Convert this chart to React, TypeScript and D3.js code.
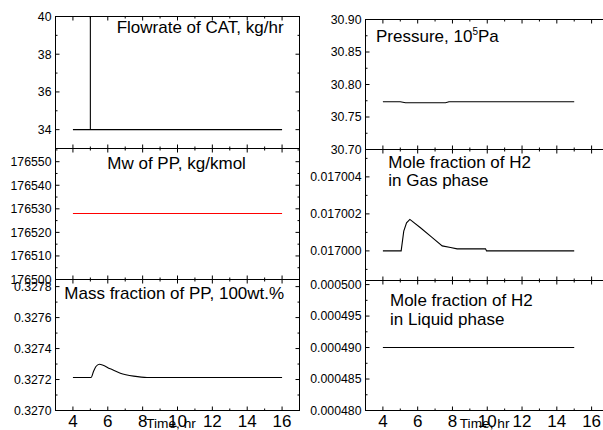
import React from "react";
import * as d3 from "d3";

// ---- data ----
const timeFlow = [4, 5, 5, 5, 16];
const flowCAT = [34, 34, 40, 34, 34];

const timeMw = [4, 16];
const mwPP = [176528, 176528];

const timeMass = [4, 5.04, 5.18, 5.32, 5.52, 6.14, 6.72, 7.48, 8.25, 16];
const massPP = [0.327213, 0.327213, 0.327252, 0.327284, 0.327299, 0.327269, 0.327241, 0.327222, 0.327213, 0.327213];

const timePress = [4, 5, 5.3, 7.6, 7.8, 15];
const pressure = [30.7734, 30.7734, 30.7719, 30.7719, 30.7734, 30.7734];

const timeGas = [4, 5.05, 5.2, 5.36, 5.55, 6.16, 6.84, 7.41, 7.89, 8.27, 9.9, 9.96, 15];
const h2Gas = [0.017, 0.017, 0.01700107, 0.01700152, 0.0170017, 0.01700125, 0.01700072, 0.01700027, 0.01700018, 0.01700011, 0.01700011, 0.017, 0.017];

const timeLiq = [4, 15];
const h2Liq = [0.00049, 0.00049];

// ---- axes ----
const xDomain = [3, 17];
const xMajor = [4, 6, 8, 10, 12, 14, 16];
const xMinor = [5, 7, 9, 11, 13, 15];

const flowTicks = [34, 36, 38, 40];
const flowMinor = [33, 35, 37, 39];
const mwTicks = [176500, 176510, 176520, 176530, 176540, 176550];
const mwMinor = [176505, 176515, 176525, 176535, 176545, 176555];
const massTicks = [0.327, 0.3272, 0.3274, 0.3276, 0.3278];
const massMinor = [0.3271, 0.3273, 0.3275, 0.3277];
const pressTicks = [30.7, 30.75, 30.8, 30.85, 30.9];
const pressMinor = [30.725, 30.775, 30.825, 30.875];
const gasTicks = [0.017, 0.017002, 0.017004];
const gasMinor = [0.016999, 0.017001, 0.017003, 0.017005];
const liqTicks = [0.00048, 0.000485, 0.00049, 0.000495, 0.0005];
const liqMinor = [0.0004825, 0.0004875, 0.0004925, 0.0004975];

const FONT = "'Liberation Sans', Arial, Helvetica, sans-serif";

type PanelProps = {
  id: string;
  x0: number; x1: number; y0: number; y1: number;
  yDomain: number[];
  yMajor: number[]; yMinor: number[];
  fmt: (v: number) => string;
  t: number[]; v: number[];
  color: string;
  smooth?: boolean;
  title: string[] | React.ReactNode;
  titleX: number; titleY: number[];
  xLabels?: boolean;
  timeLabelX?: number;
};

function Panel(p: PanelProps) {
  const x = d3.scaleLinear().domain(xDomain).range([p.x0, p.x1]);
  const y = d3.scaleLinear().domain(p.yDomain).range([p.y1, p.y0]);
  const pts = p.t.map((tt, i) => [tt, p.v[i]] as [number, number]);
  const line = d3
    .line<[number, number]>()
    .x((d) => x(d[0]))
    .y((d) => y(d[1]))
    .curve(p.smooth ? d3.curveMonotoneX : d3.curveLinear);
  const inY = (v: number) => y(v) >= p.y0 - 0.01 && y(v) <= p.y1 + 0.01;
  const maj = 4, min = 2;
  return (
    <g>
      <defs>
        <clipPath id={p.id}>
          <rect x={p.x0} y={p.y0} width={p.x1 - p.x0} height={p.y1 - p.y0} />
        </clipPath>
      </defs>
      <path d={line(pts) || ""} fill="none" stroke={p.color} strokeWidth={1.1} clipPath={`url(#${p.id})`} />
      <rect x={p.x0} y={p.y0} width={p.x1 - p.x0} height={p.y1 - p.y0} fill="none" stroke="#000" strokeWidth={1} />
      {p.yMajor.filter(inY).map((v) => (
        <g key={"ym" + v}>
          <line x1={p.x0} x2={p.x0 + maj} y1={y(v)} y2={y(v)} stroke="#000" />
          <line x1={p.x1} x2={p.x1 - maj} y1={y(v)} y2={y(v)} stroke="#000" />
          <text x={p.x0 - 4} y={y(v)} dy="0.36em" textAnchor="end" fontSize={12.3} fontFamily={FONT} fill="#000">
            {p.fmt(v)}
          </text>
        </g>
      ))}
      {p.yMinor.filter(inY).map((v) => (
        <g key={"yn" + v}>
          <line x1={p.x0} x2={p.x0 + min} y1={y(v)} y2={y(v)} stroke="#000" />
          <line x1={p.x1} x2={p.x1 - min} y1={y(v)} y2={y(v)} stroke="#000" />
        </g>
      ))}
      {xMajor.map((v) => (
        <g key={"xm" + v}>
          <line x1={x(v)} x2={x(v)} y1={p.y1} y2={p.y1 - maj} stroke="#000" />
          <line x1={x(v)} x2={x(v)} y1={p.y0} y2={p.y0 + maj} stroke="#000" />
          {p.xLabels && (
            <text x={x(v)} y={427} textAnchor="middle" fontSize={17} fontFamily={FONT} fill="#000">
              {v}
            </text>
          )}
        </g>
      ))}
      {xMinor.map((v) => (
        <g key={"xn" + v}>
          <line x1={x(v)} x2={x(v)} y1={p.y1} y2={p.y1 - min} stroke="#000" />
          <line x1={x(v)} x2={x(v)} y1={p.y0} y2={p.y0 + min} stroke="#000" />
        </g>
      ))}
      {Array.isArray(p.title) ? (
        (p.title as string[]).map((s, i) => (
          <text key={i} x={p.titleX} y={p.titleY[i]} fontSize={17} fontFamily={FONT} fill="#000">
            {s}
          </text>
        ))
      ) : (
        <text x={p.titleX} y={p.titleY[0]} fontSize={17} fontFamily={FONT} fill="#000">
          {p.title}
        </text>
      )}
      {p.xLabels && p.timeLabelX !== undefined && (
        <text x={x(p.timeLabelX)} y={428} fontSize={13.7} fontFamily={FONT} fill="#000">
          Time, hr
        </text>
      )}
    </g>
  );
}

export default function App() {
  const L = { x0: 55.5, x1: 299.5 };
  const R = { x0: 365.5, x1: 609 };
  const f4 = d3.format(".4f");
  const f2 = d3.format(".2f");
  const f6 = d3.format(".6f");
  const f0 = d3.format("d");
  return (
    <svg width={603} height={430} style={{ position: "absolute", left: 0, top: 0, background: "#fff" }}>
      <rect x={0} y={0} width={603} height={430} fill="#fff" />
      <Panel id="c1" {...L} y0={16.5} y1={148.5} yDomain={[33, 40]} yMajor={flowTicks} yMinor={flowMinor}
        fmt={f0} t={timeFlow} v={flowCAT} color="#000" title={["Flowrate of CAT, kg/hr"]} titleX={116.7} titleY={[32.5]} />
      <Panel id="c2" {...L} y0={148.5} y1={279.5} yDomain={[176500, 176555.6]} yMajor={mwTicks} yMinor={mwMinor}
        fmt={f0} t={timeMw} v={mwPP} color="#ff0000" title={["Mw of PP, kg/kmol"]} titleX={107.3} titleY={[169.3]} />
      <Panel id="c3" {...L} y0={279.5} y1={410.5} yDomain={[0.327, 0.327846]} yMajor={massTicks} yMinor={massMinor}
        fmt={f4} t={timeMass} v={massPP} color="#000" smooth title={["Mass fraction of PP, 100wt.%"]} titleX={64.3} titleY={[299]}
        xLabels timeLabelX={8.2} />
      <Panel id="c4" {...R} y0={19.5} y1={149.5} yDomain={[30.7, 30.9]} yMajor={pressTicks} yMinor={pressMinor}
        fmt={f2} t={timePress} v={pressure} color="#000"
        title={<>Pressure, 10<tspan fontSize={10} dy={-7}>5</tspan><tspan dy={7}>Pa</tspan></>}
        titleX={376} titleY={[42.3]} />
      <Panel id="c5" {...R} y0={149.5} y1={280.5} yDomain={[0.0169984, 0.01700548]} yMajor={gasTicks} yMinor={gasMinor}
        fmt={f6} t={timeGas} v={h2Gas} color="#000" title={["Mole fraction of H2", "in Gas phase"]} titleX={388.3} titleY={[167.7, 186]} />
      <Panel id="c6" {...R} y0={280.5} y1={410.5} yDomain={[0.00048, 0.00050065]} yMajor={liqTicks} yMinor={liqMinor}
        fmt={f6} t={timeLiq} v={h2Liq} color="#000" title={["Mole fraction of H2", "in Liquid phase"]} titleX={390} titleY={[306, 325]}
        xLabels timeLabelX={8.42} />
    </svg>
  );
}
